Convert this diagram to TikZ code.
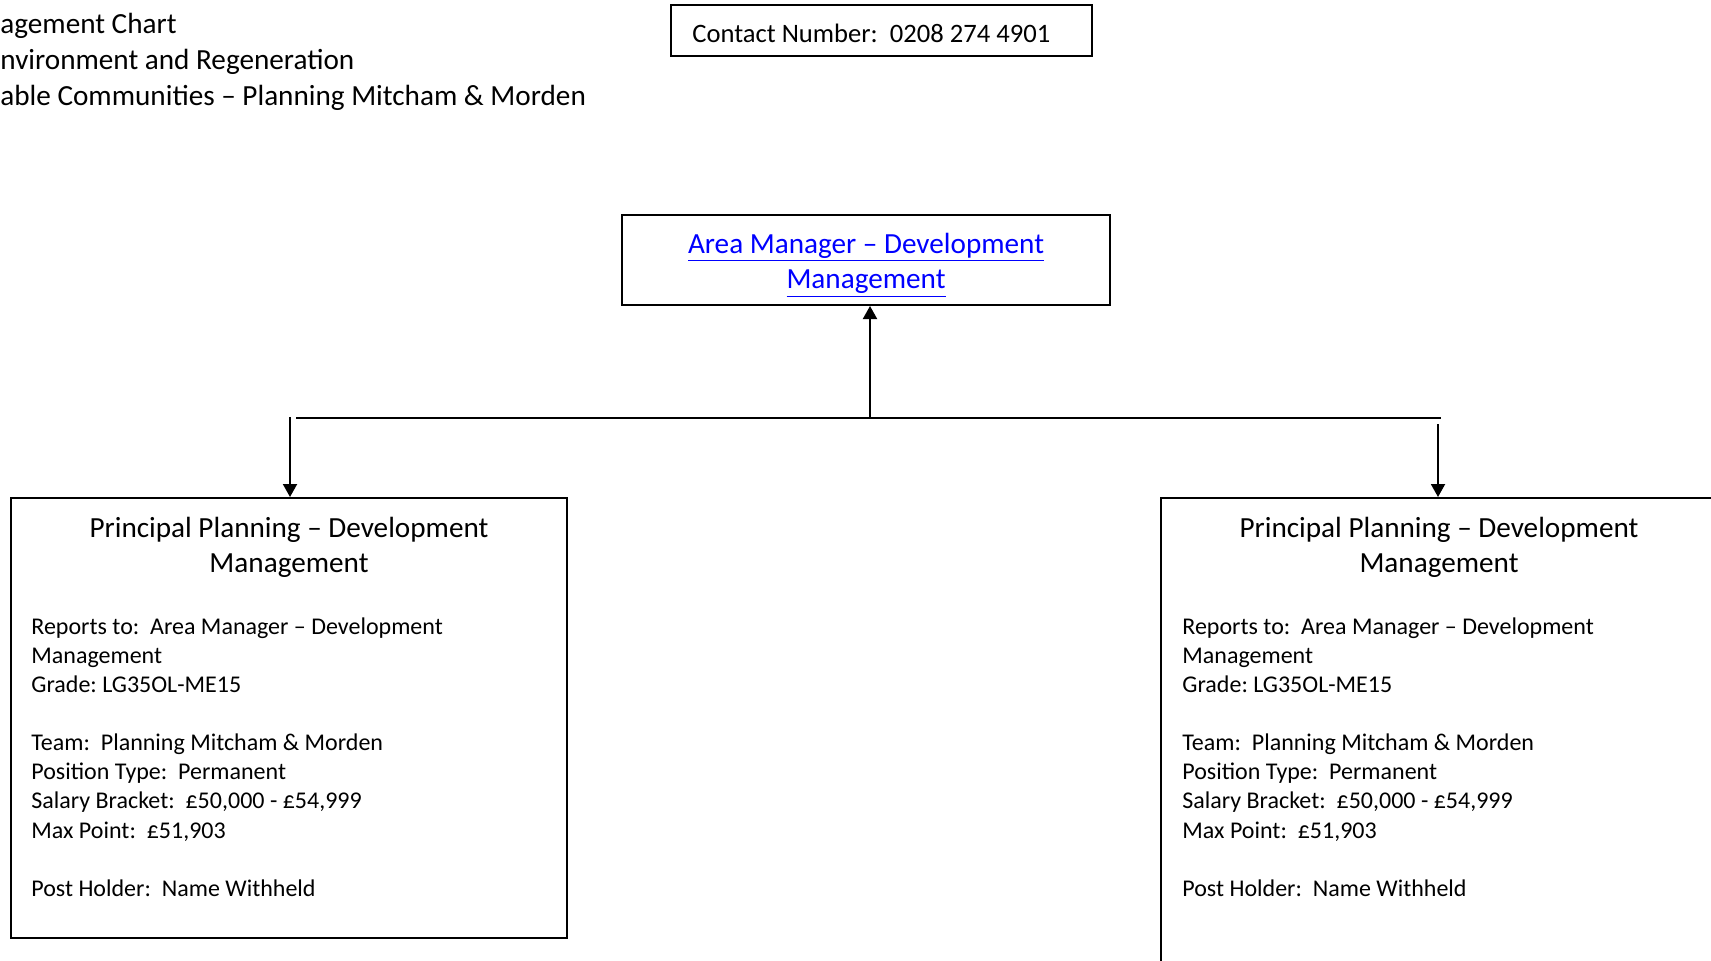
\documentclass[tikz,border=0pt]{standalone}
\usepackage{fontspec}
\setmainfont{Carlito}
\usetikzlibrary{arrows.meta}
\definecolor{linkblue}{RGB}{0,0,255}
\frenchspacing
\begin{document}
\begin{tikzpicture}[x=0.5pt,y=-0.5pt,
  frame/.style={draw=black, line width=1pt, inner sep=0pt, rectangle},
  bigtxt/.style={font=\fontsize{14.6}{17.95}\selectfont, inner sep=0pt},
  bodytxt/.style={font=\fontsize{12}{14.55}\selectfont, inner sep=0pt, text width=250pt, align=flush left, anchor=base west},
  headtxt/.style={bigtxt, text width=270pt, align=flush center, anchor=base},
  conn/.style={line width=1pt, draw=black},
  tip/.style={-{Triangle[width=7pt,length=6.5pt]}}
]
\useasboundingbox (0,0) rectangle (1711,960);
\clip (0,0) rectangle (1711,960);

% title lines (cut at left edge as in the reference)
\node[bigtxt, anchor=base west] (t1) at (0,33) {agement Chart};
\node[bigtxt, anchor=base west] (t2) at (0,69) {nvironment and Regeneration};
\node[bigtxt, anchor=base west] (t3) at (0,105) {able Communities – Planning Mitcham \& Morden};

% contact box
\node[frame, line width=0.9pt, minimum width=210.5pt, minimum height=25.5pt] (cbox) at (881.5,30.5) {};
\node[inner sep=0pt, anchor=base west, font=\fontsize{13.3}{16}\selectfont] (ctext) at (692,42) {Contact Number:~~0208 274 4901};

% area manager
\node[frame, minimum width=244pt, minimum height=45pt] (am) at (866,260) {};
\node[headtxt, text=linkblue, text width=240pt] (amt) at (866,253) {\underline{Area Manager – Development}\\\underline{Management}};

% principal boxes
\node[frame, minimum width=278pt, minimum height=220pt] (pl) at (289,718) {};
\node[frame, minimum width=278pt, minimum height=260pt] (pr) at (1439,758) {};

\node[headtxt] (plh) at (289,537) {Principal Planning – Development\\Management};
\node[headtxt] (prh) at (1439,537) {Principal Planning – Development\\Management};

\node[bodytxt] (plb) at (31,634) {Reports to:~~Area Manager – Development\\Management\\Grade: LG35OL-ME15\\[14.7pt]Team:~~Planning Mitcham \& Morden\\Position Type:~~Permanent\\Salary Bracket:~~£50,000 - £54,999\\Max Point:~~£51,903\\[14.7pt]Post Holder:~~Name Withheld};
\node[bodytxt] (prb) at (1182,634) {Reports to:~~Area Manager – Development\\Management\\Grade: LG35OL-ME15\\[14.7pt]Team:~~Planning Mitcham \& Morden\\Position Type:~~Permanent\\Salary Bracket:~~£50,000 - £54,999\\Max Point:~~£51,903\\[14.7pt]Post Holder:~~Name Withheld};

% connectors
\coordinate (hl) at (296,418);
\coordinate (hr) at (1441,418);
\coordinate (jm) at (870,418);
\coordinate (jl) at (290,417);
\coordinate (jr) at (1438,424);
\draw[conn] (hl) -- (hr);
\draw[conn, tip] (jm) -- (jm |- am.south);
\draw[conn, tip] (jl) -- (jl |- pl.north);
\draw[conn, tip] (jr) -- (jr |- pr.north);
\end{tikzpicture}
\end{document}
